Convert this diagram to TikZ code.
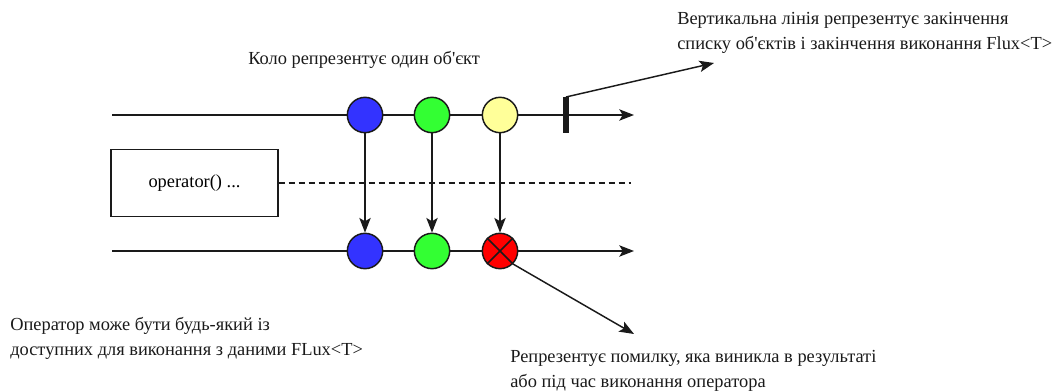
\documentclass[tikz,border=0pt]{standalone}
\usepackage{fontspec}
\setmainfont{Liberation Serif}[Ligatures=TeXOff]
\usetikzlibrary{arrows.meta}
\definecolor{ink}{HTML}{1A1A1A}
\definecolor{evblue}{HTML}{3333FF}
\definecolor{evgreen}{HTML}{33FF33}
\definecolor{evyellow}{HTML}{FFFF99}
\definecolor{everr}{HTML}{FF0000}
\tikzset{
  wire/.style={draw=ink, line width=1.1pt},
  flow/.style={wire, -{Stealth[length=11pt, width=8.5pt, inset=2.5pt]}},
  event/.style={circle, draw=ink, line width=1.1pt, minimum size=26.5pt, inner sep=0pt},
  label/.style={font=\fontsize{13.8}{18.75}\selectfont, align=left, anchor=west, inner sep=0pt, text=ink},
  opbox/.style={draw=ink, line width=1.1pt, minimum width=125pt, minimum height=50pt, inner sep=0pt, font=\fontsize{13.8}{16}\selectfont}
}
\begin{document}
\begin{tikzpicture}[x=0.75pt, y=-0.75pt]
\useasboundingbox (0,0) rectangle (1056,392);

% source timeline
\coordinate (s0) at (112,115);
\coordinate (s1) at (634,115);
\draw[flow] (s0) -- (s1);

% result timeline
\coordinate (r0) at (112,251);
\coordinate (r1) at (634,251);
\draw[flow] (r0) -- (r1);

% operator box and its dashed guide
\node[opbox] (op) at (194.5,183) {operator() ...};
\coordinate (d1) at (631,183);
\draw[ink, line width=1.1pt, dash pattern=on 4.5pt off 3pt] (op.east) -- (d1);

% emitted items
\node[event, fill=evblue]   (a1) at (365,115) {};
\node[event, fill=evgreen]  (a2) at (432,115) {};
\node[event, fill=evyellow] (a3) at (500,115) {};

% transformed items
\node[event, fill=evblue]   (b1) at (365,251) {};
\node[event, fill=evgreen]  (b2) at (432,251) {};
\node[event, fill=everr]    (b3) at (500,251) {};
\draw[ink, line width=1.1pt] (b3.north west) -- (b3.south east)
                              (b3.north east) -- (b3.south west);

\draw[flow] (a1) -- (b1);
\draw[flow] (a2) -- (b2);
\draw[flow] (a3) -- (b3);

% completion bar
\coordinate (c0) at (566,97);
\coordinate (c1) at (566,133);
\draw[ink, line width=3.8pt] (c0) -- (c1);

% callouts
\coordinate (ct) at (714,63);
\draw[flow] (c0) -- (ct);
\coordinate (et) at (634,334);
\draw[flow] (b3.south east) -- (et);

% annotations
\node[label] (t1) at (248,60) {Коло репрезентує один об'єкт};
\node[label] (t2) at (677,32.5) {Вертикальна лінія репрезентує закінчення\\списку об'єктів і закінчення виконання Flux<T>};
\node[label] (t3) at (10,338) {Оператор може бути будь-який із\\доступних для виконання з даними FLux<T>};
\node[label] (t4) at (510,371) {Репрезентує помилку, яка виникла в результаті\\або під час виконання оператора};
\end{tikzpicture}
\end{document}
